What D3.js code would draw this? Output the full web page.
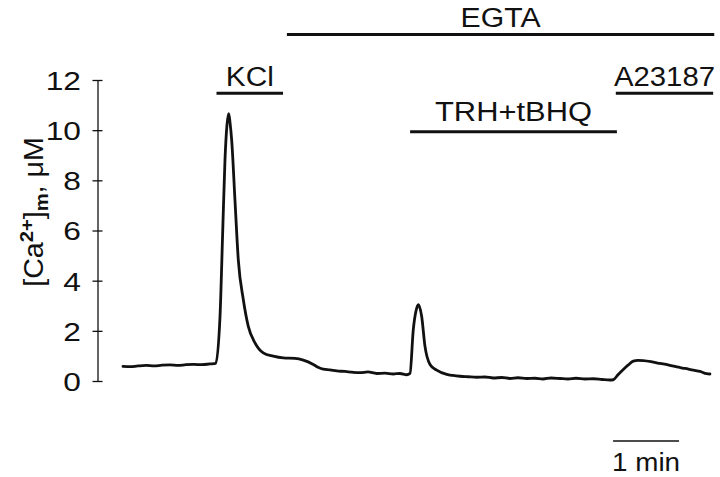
<!DOCTYPE html>
<html><head><meta charset="utf-8">
<script src="https://cdn.jsdelivr.net/npm/d3@7"></script>
<style>html,body{margin:0;padding:0;background:#fff;} svg{display:block;font-family:"Liberation Sans",Arial,Helvetica,sans-serif;}</style>
</head><body><svg id="chart" width="720" height="477"></svg>
<script>
// ---- data ----
const timeSec = [0,6.4,13.6,20.9,28.2,35.5,42.7,50,57.3,64.5,71.8,79.1,84.3,88.2,90.6,92.7,94.5,96.1,97.3,98.8,101.8,104.8,109.4,113.9,120,127.5,136.6,145.7,156.4,163.9,173,177.3,182.1,188.2,194.3,201.8,208.2,215.5,222.7,230.6,238.2,245.7,251.8,257.9,260.9,263.9,266.4,268.5,271.5,274.5,279.1,285.2,294.3,300,306.4,313.6,321.5,329.1,336.6,344.5,351.8,359.1,367,374.5,381.8,389.1,397.3,404.5,411.8,420,427.5,435.5,442.7,445.7,450,454.8,459.1,463.9,468.2,473,480,488.2,495.5,503.4,510.9,518.5,524.5,530.6,533.6];
const caValues = [0.58,0.57,0.60,0.62,0.60,0.63,0.64,0.62,0.65,0.66,0.65,0.68,0.70,2.58,5.9,8.8,10.2,10.66,10.3,9.6,7.2,4.84,3.24,2.18,1.52,1.12,0.99,0.92,0.90,0.83,0.66,0.55,0.47,0.44,0.40,0.38,0.35,0.33,0.36,0.30,0.31,0.28,0.30,0.25,0.30,2.05,2.8,3.04,2.58,1.39,0.66,0.43,0.26,0.22,0.19,0.17,0.15,0.16,0.12,0.14,0.10,0.13,0.10,0.11,0.08,0.12,0.10,0.08,0.11,0.08,0.09,0.06,0.04,0.05,0.25,0.46,0.63,0.79,0.82,0.81,0.77,0.70,0.64,0.56,0.50,0.43,0.38,0.29,0.28];
const yTicks = [0,2,4,6,8,10,12];
const treatNames = ["EGTA","KCl","TRH+tBHQ","A23187"];
const treatStart = [149,85,261,448];
const treatEnd = [537.5,145.5,449,536.5];
const treatRow = [0,1,2,1];
const scaleBarStart = 445.5;
const scaleBarSec = 60;
const scaleBarLabel = "1 min";

// ---- layout ----
const ink = "#111";
const svg = d3.select("#chart");
const x = d3.scaleLinear().domain([0,540]).range([123,717]);
const y = d3.scaleLinear().domain([0,12]).range([381,80]);

// y axis
const yAxis = d3.axisLeft(y).tickValues(yTicks).tickSize(5).tickSizeOuter(0).tickPadding(0);
const ga = svg.append("g").attr("transform","translate(97.5,0)").call(yAxis)
  .attr("font-family",null).attr("font-size",null);
ga.select(".domain").attr("stroke",ink).attr("stroke-width",1.3);
ga.selectAll(".tick line").attr("x1",5).attr("x2",-5).attr("stroke",ink).attr("stroke-width",1.3);
ga.selectAll(".tick text").attr("x",null).attr("dy","0.36em")
  .attr("transform","translate(-16.5,0) scale(1.22,1)")
  .attr("font-size",26).attr("fill",ink).attr("text-anchor","end");

// y label
const yl = svg.append("text").attr("transform","translate(43,212) rotate(-90) scale(1.06,1)")
  .attr("text-anchor","middle").attr("font-size",27).attr("fill",ink);
yl.append("tspan").text("[Ca");
yl.append("tspan").attr("font-size",19).attr("font-weight","bold").attr("dy",-10).text("2+");
yl.append("tspan").attr("dy",10).text("]");
yl.append("tspan").attr("font-size",19).attr("font-weight","bold").attr("dy",5).text("m");
yl.append("tspan").attr("dy",-5).text(", \u03BCM");

// trace
const pts = timeSec.map((t,i)=>[t,caValues[i]]);
svg.append("path").datum(pts)
  .attr("d", d3.line().curve(d3.curveMonotoneX).x(d=>x(d[0])).y(d=>y(d[1])))
  .attr("fill","none").attr("stroke",ink).attr("stroke-width",2.8)
  .attr("stroke-linejoin","round").attr("stroke-linecap","round");

// treatment bars
const rowBarY = [34.5,93.3,131.7];
const rowTextY = [27,86,121];
const treatLen = {"EGTA":80,"KCl":48,"TRH+tBHQ":157,"A23187":101};
treatNames.forEach((name,i)=>{
  const r = treatRow[i];
  svg.append("line").attr("x1",x(treatStart[i])).attr("x2",x(treatEnd[i]))
    .attr("y1",rowBarY[r]).attr("y2",rowBarY[r]).attr("stroke",ink).attr("stroke-width",3);
  svg.append("text").attr("x",(x(treatStart[i])+x(treatEnd[i]))/2).attr("y",rowTextY[r])
    .attr("text-anchor","middle").attr("font-size",27).attr("fill",ink)
    .attr("textLength",treatLen[name]).attr("lengthAdjust","spacingAndGlyphs").text(name);
});

// time scale bar
svg.append("line").attr("x1",x(scaleBarStart)).attr("x2",x(scaleBarStart+scaleBarSec))
  .attr("y1",441).attr("y2",441).attr("stroke",ink).attr("stroke-width",1.7);
svg.append("text").attr("x",x(scaleBarStart+scaleBarSec/2)).attr("y",470.5)
  .attr("text-anchor","middle").attr("font-size",26).attr("fill",ink)
  .attr("textLength",68).attr("lengthAdjust","spacingAndGlyphs").text(scaleBarLabel);
</script></body></html>
